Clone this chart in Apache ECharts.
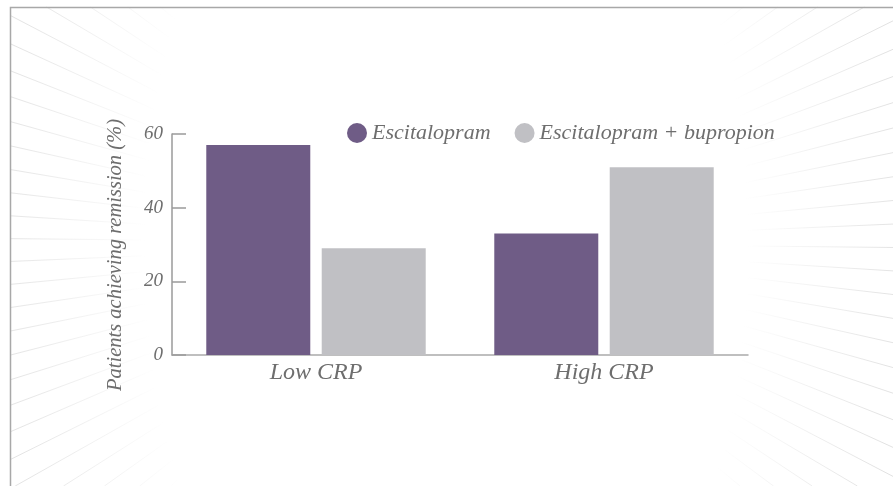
<!DOCTYPE html>
<html>
<head>
<meta charset="utf-8">
<script src="https://cdn.jsdelivr.net/npm/echarts@6/dist/echarts.min.js"></script>
<style>
  html, body { margin: 0; padding: 0; background: #ffffff; }
  #chart { width: 893px; height: 486px; }
</style>
</head>
<body>
<div id="chart"></div>
<script>
// Remission rates by baseline CRP group
const categories = ['Low CRP', 'High CRP'];
const seriesNames = ['Escitalopram', 'Escitalopram + bupropion'];
const escitalopramValues = [57, 33];
const comboValues = [29, 51];
const yTicks = [0, 20, 40, 60];

const W = 893, H = 486;
const FONT = '"Liberation Serif", "DejaVu Serif", serif';
const TEXT = '#6e6e6e';

// Light sunburst rays behind the plot, clipped to the framed area
function rays() {
  const cx = 446, cy = 243;
  const x0 = 10, y0 = 7, x1 = W, y1 = H;
  const out = [];
  const n = 120;
  for (let i = 0; i < n; i++) {
    const a = (i / n) * Math.PI * 2 + 0.01;
    const dx = Math.cos(a), dy = Math.sin(a);
    let t = Infinity;
    if (dx > 0) t = Math.min(t, (x1 - cx) / dx);
    if (dx < 0) t = Math.min(t, (x0 - cx) / dx);
    if (dy > 0) t = Math.min(t, (y1 - cy) / dy);
    if (dy < 0) t = Math.min(t, (y0 - cy) / dy);
    out.push({
      type: 'line', silent: true, z: -3,
      shape: { x1: cx, y1: cy, x2: cx + dx * t, y2: cy + dy * t },
      style: { stroke: '#e0e0e0', lineWidth: 1 }
    });
  }
  return out;
}

const chart = echarts.init(document.getElementById('chart'), null, { renderer: 'canvas' });

chart.setOption({
  backgroundColor: '#ffffff',
  animation: false,
  textStyle: { fontFamily: FONT },
  color: ['#6f5c86', '#c0c0c4'],
  graphic: [
    ...rays(),
    // white wash that fades the rays out towards the middle
    {
      type: 'circle', silent: true, z: -2,
      x: 446, y: 243, scaleY: 1.7,
      shape: { cx: 0, cy: 0, r: 470 },
      style: {
        fill: new echarts.graphic.RadialGradient(0.5, 0.5, 0.5, [
          { offset: 0, color: 'rgba(255,255,255,1)' },
          { offset: 0.64, color: 'rgba(255,255,255,1)' },
          { offset: 0.96, color: 'rgba(255,255,255,0.1)' },
          { offset: 1, color: 'rgba(255,255,255,0)' }
        ])
      }
    },
    // frame
    {
      type: 'polyline', silent: true, z: -1,
      shape: { points: [[10.5, H], [10.5, 7.5], [W, 7.5]] },
      style: { stroke: '#a8a8a8', lineWidth: 1.5, fill: null }
    },
    {
      type: 'text', silent: true, z: 5,
      x: 116, y: 255, rotation: Math.PI / 2,
      style: {
        text: 'Patients achieving remission (%)',
        font: 'italic 20.5px ' + FONT,
        fill: TEXT,
        align: 'center',
        verticalAlign: 'middle'
      }
    }
  ],
  legend: {
    left: 342, top: 117,
    icon: 'circle',
    itemWidth: 20, itemHeight: 20,
    itemGap: 24,
    textStyle: { fontFamily: FONT, fontStyle: 'italic', fontSize: 22, color: TEXT },
    data: seriesNames
  },
  grid: { left: 172, right: 145, top: 134, bottom: 131, containLabel: false },
  xAxis: {
    type: 'category',
    data: categories,
    axisLine: { lineStyle: { color: '#ababab', width: 1.5 } },
    axisTick: { show: false },
    axisLabel: { fontFamily: FONT, fontStyle: 'italic', fontSize: 24, color: TEXT, margin: 6 },
    splitLine: { show: false }
  },
  yAxis: {
    type: 'value',
    min: yTicks[0], max: yTicks[yTicks.length - 1], interval: 20,
    axisLine: { show: true, lineStyle: { color: '#9a9a9a', width: 1.5 } },
    axisTick: { show: true, inside: true, length: 14, lineStyle: { color: '#9a9a9a', width: 1.5 } },
    axisLabel: { fontFamily: FONT, fontStyle: 'italic', fontSize: 19, color: TEXT, margin: 9 },
    splitLine: { show: false }
  },
  series: [
    {
      name: seriesNames[0], type: 'bar', data: escitalopramValues,
      barWidth: 104, barGap: '11%', z: 2
    },
    {
      name: seriesNames[1], type: 'bar', data: comboValues,
      barWidth: 104, barGap: '11%', z: 2
    }
  ]
});
</script>
</body>
</html>
